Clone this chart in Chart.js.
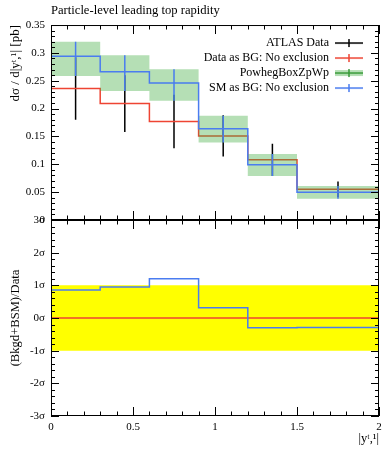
<!DOCTYPE html>
<html><head><meta charset="utf-8">
<script src="https://cdn.jsdelivr.net/npm/chart.js@4.4.1/dist/chart.umd.min.js"></script>
<style>
html,body{margin:0;padding:0;background:#fff;}
#wrap{position:relative;width:392px;height:450px;}
canvas{position:absolute;left:0;top:0;}
</style></head><body>
<div id="wrap"><canvas id="topc" width="392" height="450"></canvas><canvas id="botc" width="392" height="450"></canvas></div>
<script>
// ---- data ----
const binEdges   = [0, 0.3, 0.6, 0.9, 1.2, 1.5, 2.0];
const dataValues = [0.236, 0.209, 0.177, 0.151, 0.108, 0.055];
const dataErrors = [0.056, 0.051, 0.048, 0.037, 0.029, 0.014];
const dataAsBG   = [0.236, 0.209, 0.177, 0.151, 0.108, 0.055];
const smAsBG     = [0.294, 0.266, 0.246, 0.164, 0.099, 0.050];
const powhegLow  = [0.2585, 0.2315, 0.214, 0.139, 0.079, 0.038];
const powhegHigh = [0.320, 0.2956, 0.2705, 0.187, 0.1185, 0.061];
const ratioDataBG = [0, 0, 0, 0, 0, 0];
const ratioSM     = [0.86, 0.95, 1.20, 0.31, -0.30, -0.29];
const upperYTicks = [0, 0.05, 0.1, 0.15, 0.2, 0.25, 0.3, 0.35];
const sigmaTicks  = [-3, -2, -1, 0, 1, 2, 3];
const xTickLabels = [0, 0.5, 1, 1.5, 2];
const legendNames = ['ATLAS Data', 'Data as BG: No exclusion', 'PowhegBoxZpWp', 'SM as BG: No exclusion'];

const FONT = '"Liberation Serif", "DejaVu Serif", serif';
const RED = '#ee4433', BLUE = '#4a7cf0', BAND = 'rgba(60,170,60,0.38)', GREENLINE = '#3a9a3a';

function stepPoints(vals) {
  const pts = vals.map((v, i) => ({x: binEdges[i], y: v}));
  pts.push({x: binEdges[vals.length], y: vals[vals.length - 1]});
  return pts;
}
function errPoints(lo, hi) {
  const pts = [];
  for (let i = 0; i < lo.length; i++) {
    const c = (binEdges[i] + binEdges[i + 1]) / 2;
    pts.push({x: c, y: lo[i]}, {x: c, y: hi[i]}, {x: c, y: null});
  }
  return pts;
}
const dataLo = dataValues.map((v, i) => v - dataErrors[i]);
const dataHi = dataValues.map((v, i) => v + dataErrors[i]);

function symbol(color, band) {
  const c = document.createElement('canvas');
  c.width = 28; c.height = 10;
  const g = c.getContext('2d');
  if (band) { g.fillStyle = BAND; g.fillRect(0, 2, 28, 6); }
  g.strokeStyle = color; g.lineWidth = 1.5;
  g.beginPath(); g.moveTo(0, 5); g.lineTo(28, 5); g.moveTo(14, 1); g.lineTo(14, 9); g.stroke();
  return c;
}
const legendSymbols = [symbol('#000'), symbol(RED), symbol(GREENLINE, true), symbol(BLUE)];

const frameTicks = {
  id: 'frameTicks',
  afterDraw(chart, args, o) {
    const {ctx, chartArea: a, scales} = chart;
    ctx.save();
    ctx.strokeStyle = '#000'; ctx.lineWidth = 1;
    ctx.strokeRect(a.left + 0.5, a.top + 0.5, a.right - a.left - 1, a.bottom - a.top - 1);
    ctx.beginPath();
    for (let k = 0; k <= o.xN; k++) {
      const v = scales.x.min + k * o.xStep;
      const major = k % o.xEvery === 0;
      const len = major ? 9 : 4.5;
      const px = Math.round(scales.x.getPixelForValue(v)) + 0.5;
      ctx.moveTo(px, a.bottom); ctx.lineTo(px, a.bottom - len);
      ctx.moveTo(px, a.top); ctx.lineTo(px, a.top + len);
    }
    for (let k = 0; k <= o.yN; k++) {
      const v = scales.y.min + k * o.yStep;
      const major = k % o.yEvery === 0;
      const len = major ? 8 : 4;
      const py = Math.round(scales.y.getPixelForValue(v)) + 0.5;
      ctx.moveTo(a.left, py); ctx.lineTo(a.left + len, py);
      ctx.moveTo(a.right, py); ctx.lineTo(a.right - len, py);
    }
    ctx.stroke();
    ctx.restore();
  }
};
const legendPlace = {
  id: 'legendPlace',
  afterLayout(chart) {
    const lg = chart.legend; if (!lg) return;
    const w = lg.width, h = lg.height;
    const r = chart.chartArea.right - 13;
    lg.left = r - w; lg.right = r;
    lg.top = chart.chartArea.top + 9; lg.bottom = lg.top + h;
  }
};

const tickFont = {family: FONT, size: 11};

new Chart(document.getElementById('topc'), {
  type: 'line',
  data: {
    datasets: [
      {label: legendNames[3], data: stepPoints(smAsBG), borderColor: BLUE, borderWidth: 1.5, stepped: 'before', order: 0},
      {label: 'SM errors', data: errPoints(powhegLow, powhegHigh), borderColor: BLUE, borderWidth: 1.5, order: 0},
      {label: legendNames[2], data: stepPoints(powhegHigh), borderWidth: 0, borderColor: 'rgba(0,0,0,0)', backgroundColor: BAND, fill: '+1', stepped: 'before', order: 1},
      {label: 'band low', data: stepPoints(powhegLow), borderWidth: 0, borderColor: 'rgba(0,0,0,0)', stepped: 'before', fill: false, order: 1},
      {label: legendNames[1], data: stepPoints(dataAsBG), borderColor: RED, borderWidth: 1.5, stepped: 'before', order: 2},
      {label: legendNames[0], data: errPoints(dataLo, dataHi), borderColor: '#000', borderWidth: 1.5, order: 3}
    ]
  },
  options: {
    responsive: false, animation: false, events: [],
    elements: {point: {radius: 0}, line: {tension: 0}},
    layout: {padding: {left: 0, right: 13, top: 0, bottom: 0}},
    scales: {
      x: {type: 'linear', min: 0, max: 2, grid: {display: false, drawTicks: false}, border: {display: false},
          ticks: {display: false}, afterFit(s) { s.height = 230; }},
      y: {type: 'linear', min: 0, max: 0.35, grid: {display: false, drawTicks: false}, border: {display: false},
          afterBuildTicks(s) { s.ticks = upperYTicks.map(v => ({value: v})); },
          ticks: {font: tickFont, color: '#000', padding: 6, callback: v => String(Number(v.toFixed(2)))},
          title: {display: true, text: 'dσ / d|yᵗ,¹| [pb]', align: 'end', color: '#000', font: {family: FONT, size: 13}, padding: {top: 8, bottom: 0}},
          afterFit(s) { s.width = 51; }}
    },
    plugins: {
      title: {display: true, text: 'Particle-level leading top rapidity', align: 'start', fullSize: false, color: '#000',
              font: {family: FONT, size: 12.6, weight: 'normal'}, padding: {top: 3.5, bottom: 6.4}},
      legend: {display: true, position: 'chartArea', align: 'start', rtl: true,
        labels: {usePointStyle: true, pointStyleWidth: 28, boxHeight: 10, padding: 3, color: '#000', font: {family: FONT, size: 12},
          generateLabels: () => legendNames.map((n, i) => ({text: n, pointStyle: legendSymbols[i], fontColor: '#000', fillStyle: 'rgba(0,0,0,0)', strokeStyle: 'rgba(0,0,0,0)', lineWidth: 0, hidden: false, datasetIndex: [5, 4, 2, 0][i]}))}},
      tooltip: {enabled: false},
      frameTicks: {xN: 20, xStep: 0.1, xEvery: 5, yN: 35, yStep: 0.01, yEvery: 5}
    }
  },
  plugins: [frameTicks, legendPlace]
});

new Chart(document.getElementById('botc'), {
  type: 'line',
  data: {
    datasets: [
      {label: 'SM as BG ratio', data: stepPoints(ratioSM), borderColor: BLUE, borderWidth: 1.5, stepped: 'before', order: 0},
      {label: 'Data as BG ratio', data: stepPoints(ratioDataBG), borderColor: RED, borderWidth: 1.5, stepped: 'before', order: 1},
      {label: '±1σ', data: [{x: binEdges[0], y: 1}, {x: binEdges[binEdges.length - 1], y: 1}], borderWidth: 0, borderColor: 'rgba(0,0,0,0)', backgroundColor: '#ffff00', fill: {value: -1}, order: 2}
    ]
  },
  options: {
    responsive: false, animation: false, events: [],
    elements: {point: {radius: 0}, line: {tension: 0}},
    layout: {padding: {left: 0, right: 13, top: 220, bottom: 0}},
    scales: {
      x: {type: 'linear', min: 0, max: 2, grid: {display: false, drawTicks: false}, border: {display: false},
          afterBuildTicks(s) { s.ticks = xTickLabels.map(v => ({value: v})); },
          ticks: {font: tickFont, color: '#000', padding: 5, maxRotation: 0, callback: v => String(v)},
          title: {display: true, text: '|yᵗ,¹|', align: 'end', color: '#000', font: {family: FONT, size: 12.5}, padding: {top: 0, bottom: 4}},
          afterFit(s) { s.height = 34; }},
      y: {type: 'linear', min: -3, max: 3, grid: {display: false, drawTicks: false}, border: {display: false},
          afterBuildTicks(s) { s.ticks = sigmaTicks.map(v => ({value: v})); },
          ticks: {font: tickFont, color: '#000', padding: 6, callback: v => (v < 0 ? '-' + (-v) : String(v)) + 'σ'},
          title: {display: true, text: '(Bkgd+BSM)/Data', align: 'center', color: '#000', font: {family: FONT, size: 12.6}, padding: {top: 8.5, bottom: 0}},
          afterFit(s) { s.width = 51; }}
    },
    plugins: {
      title: {display: false}, legend: {display: false}, tooltip: {enabled: false},
      frameTicks: {xN: 20, xStep: 0.1, xEvery: 5, yN: 30, yStep: 0.2, yEvery: 5}
    }
  },
  plugins: [frameTicks]
});
</script>
</body></html>
